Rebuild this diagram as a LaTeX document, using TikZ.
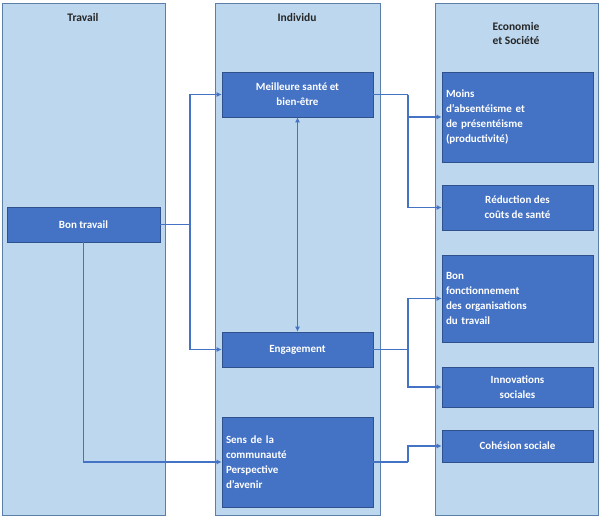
\documentclass[tikz,border=0pt]{standalone}
\usepackage{fontspec}
\setmainfont{Carlito}
\usetikzlibrary{arrows.meta}
\definecolor{colbg}{HTML}{BDD7EE}
\definecolor{colbd}{HTML}{5B7FA8}
\definecolor{boxbg}{HTML}{4472C4}
\definecolor{boxbd}{HTML}{2F528F}
\tikzset{
  column/.style={fill=colbg,draw=colbd,line width=0.8pt},
  title/.style={font=\bfseries\fontsize{11.5}{14}\selectfont,align=center,text=black!85},
  box/.style={fill=boxbg,draw=boxbd,line width=0.6pt,text=white,font=\bfseries\fontsize{11}{15}\selectfont,minimum width=151pt,inner sep=4pt},
  link/.style={draw=boxbg,line width=1.2pt,-{Latex[length=5pt,width=5pt]}},
  seg/.style={draw=boxbg,line width=1.2pt}
}
\begin{document}
\begin{tikzpicture}[x=1pt,y=-1pt]
\useasboundingbox (0,0) rectangle (600,517);
\draw[column] (2,3) rectangle (165,515);
\draw[column] (215,3) rectangle (380,515);
\draw[column] (435,3) rectangle (598,515);
\node[title] (t1) at (83,18) {Travail};
\node[title] (t2) at (297,18) {Individu};
\node[title] (t3) at (516,34) {Economie\\et Société};

\node[box,minimum width=153pt,minimum height=35pt] (bt) at (83.5,224.5) {Bon travail};
\node[box,minimum height=45pt,align=center] (ms) at (297.5,94.5) {Meilleure santé et\\bien-être};
\node[box,minimum height=35pt] (en) at (297.5,349.5) {Engagement};
\node[box,minimum height=90pt,text width=143pt,align=left] (se) at (297.5,462) {Sens de la\\communauté\\Perspective\\d'avenir};
\node[box,minimum height=90pt,text width=143pt,align=left] (mo) at (517.5,117) {Moins\\d'absentéisme et\\de présentéisme\\(productivité)};
\node[box,minimum height=45pt,align=center] (rc) at (517.5,207.5) {Réduction des\\coûts de santé};
\node[box,minimum height=87pt,text width=143pt,align=left] (bf) at (517.5,298.5) {Bon\\fonctionnement\\des organisations\\du travail};
\node[box,minimum height=40pt,align=center] (in) at (517.5,387) {Innovations\\sociales};
\node[box,minimum height=32pt] (co) at (517.5,446) {Cohésion sociale};

\coordinate (j1) at (190,224.5);
\draw[seg] (bt.east) -- (j1);
\draw[link] (j1) |- (ms.west);
\draw[link] (j1) |- (en.west);
\draw[link] (bt.south) |- (se.west);
\draw[draw=boxbg,line width=1.2pt,{Latex[length=5pt,width=5pt]}-{Latex[length=5pt,width=5pt]}] (ms.south) -- (en.north);
\coordinate (j2) at (408,94.5);
\draw[seg] (ms.east) -- (j2);
\draw[link] (j2) |- (mo.west);
\draw[link] (j2) |- (rc.west);
\coordinate (j3) at (408,349.5);
\draw[seg] (en.east) -- (j3);
\draw[link] (j3) |- (bf.west);
\draw[link] (j3) |- (in.west);
\coordinate (j4) at (408,462);
\draw[seg] (se.east) -- (j4);
\draw[link] (j4) |- (co.west);
\end{tikzpicture}
\end{document}
